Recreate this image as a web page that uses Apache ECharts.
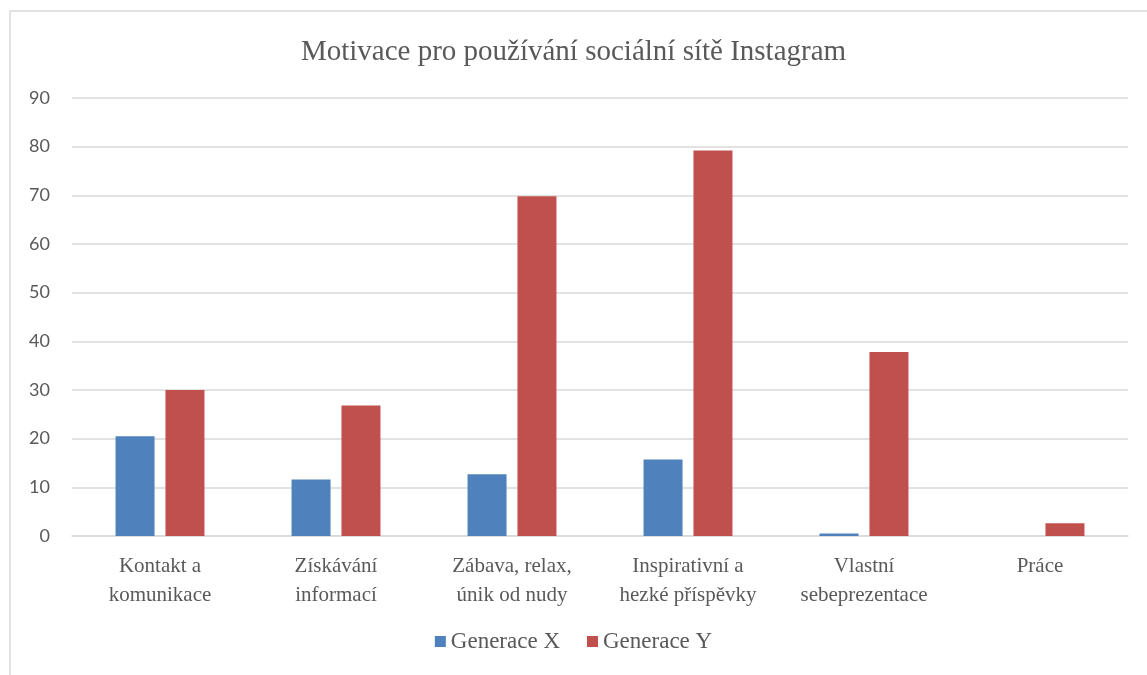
<!DOCTYPE html>
<html>
<head>
<meta charset="utf-8">
<script src="https://cdn.jsdelivr.net/npm/echarts@6/dist/echarts.min.js"></script>
<style>
  html, body { margin: 0; padding: 0; background: #fff; }
  #main { width: 1147px; height: 675px; }
</style>
</head>
<body>
<div id="main"></div>
<script>
// data
const categories = [
  'Kontakt a\nkomunikace',
  'Získávání\ninformací',
  'Zábava, relax,\núnik od nudy',
  'Inspirativní a\nhezké příspěvky',
  'Vlastní\nsebeprezentace',
  'Práce'
];
const genX = [20.5, 11.6, 12.7, 15.7, 0.5, 0];
const genY = [30, 26.8, 69.8, 79.2, 37.8, 2.6];
const yTicks = [0, 10, 20, 30, 40, 50, 60, 70, 80, 90];

const serif = '"Liberation Serif", "DejaVu Serif", serif';
const textGray = '#595959';

let chart = echarts.init(document.getElementById('main'));

const option = {
  animation: false,
  title: {
    text: 'Motivace pro používání sociální sítě Instagram',
    left: 'center',
    top: 33,
    textStyle: {
      fontFamily: serif,
      fontWeight: 'normal',
      fontSize: 29,
      color: textGray
    }
  },
  graphic: [{
    type: 'rect',
    shape: { x: 10, y: 11, width: 1160, height: 700 },
    style: { fill: 'none', stroke: '#D9D9D9', lineWidth: 1.5 },
    silent: true
  }],
  legend: {
    bottom: 17,
    left: 'center',
    itemWidth: 11,
    itemHeight: 11,
    itemGap: 27,
    icon: 'rect',
    textStyle: {
      fontFamily: serif,
      fontSize: 23,
      color: textGray
    }
  },
  grid: {
    left: 72,
    right: 19,
    top: 98,
    bottom: 139,
    containLabel: false
  },
  xAxis: {
    type: 'category',
    data: categories,
    axisLine: { lineStyle: { color: '#D9D9D9', width: 1.5 } },
    axisTick: { show: false },
    axisLabel: {
      interval: 0,
      margin: 16,
      fontFamily: serif,
      fontSize: 21,
      lineHeight: 29,
      color: textGray
    }
  },
  yAxis: {
    type: 'value',
    min: yTicks[0],
    max: yTicks[yTicks.length - 1],
    interval: 10,
    axisLine: { show: false },
    axisTick: { show: false },
    splitLine: { lineStyle: { color: '#D9D9D9', width: 1.5 } },
    axisLabel: {
      margin: 22,
      fontFamily: 'Lato, "Open Sans", sans-serif',
      fontSize: 18,
      color: textGray
    }
  },
  series: [
    {
      name: 'Generace X',
      type: 'bar',
      data: genX,
      barWidth: 39,
      barGap: '28%',
      itemStyle: { color: '#4F81BD' }
    },
    {
      name: 'Generace Y',
      type: 'bar',
      data: genY,
      barWidth: 39,
      itemStyle: { color: '#C0504D' }
    }
  ]
};
chart.setOption(option);
</script>
</body>
</html>
